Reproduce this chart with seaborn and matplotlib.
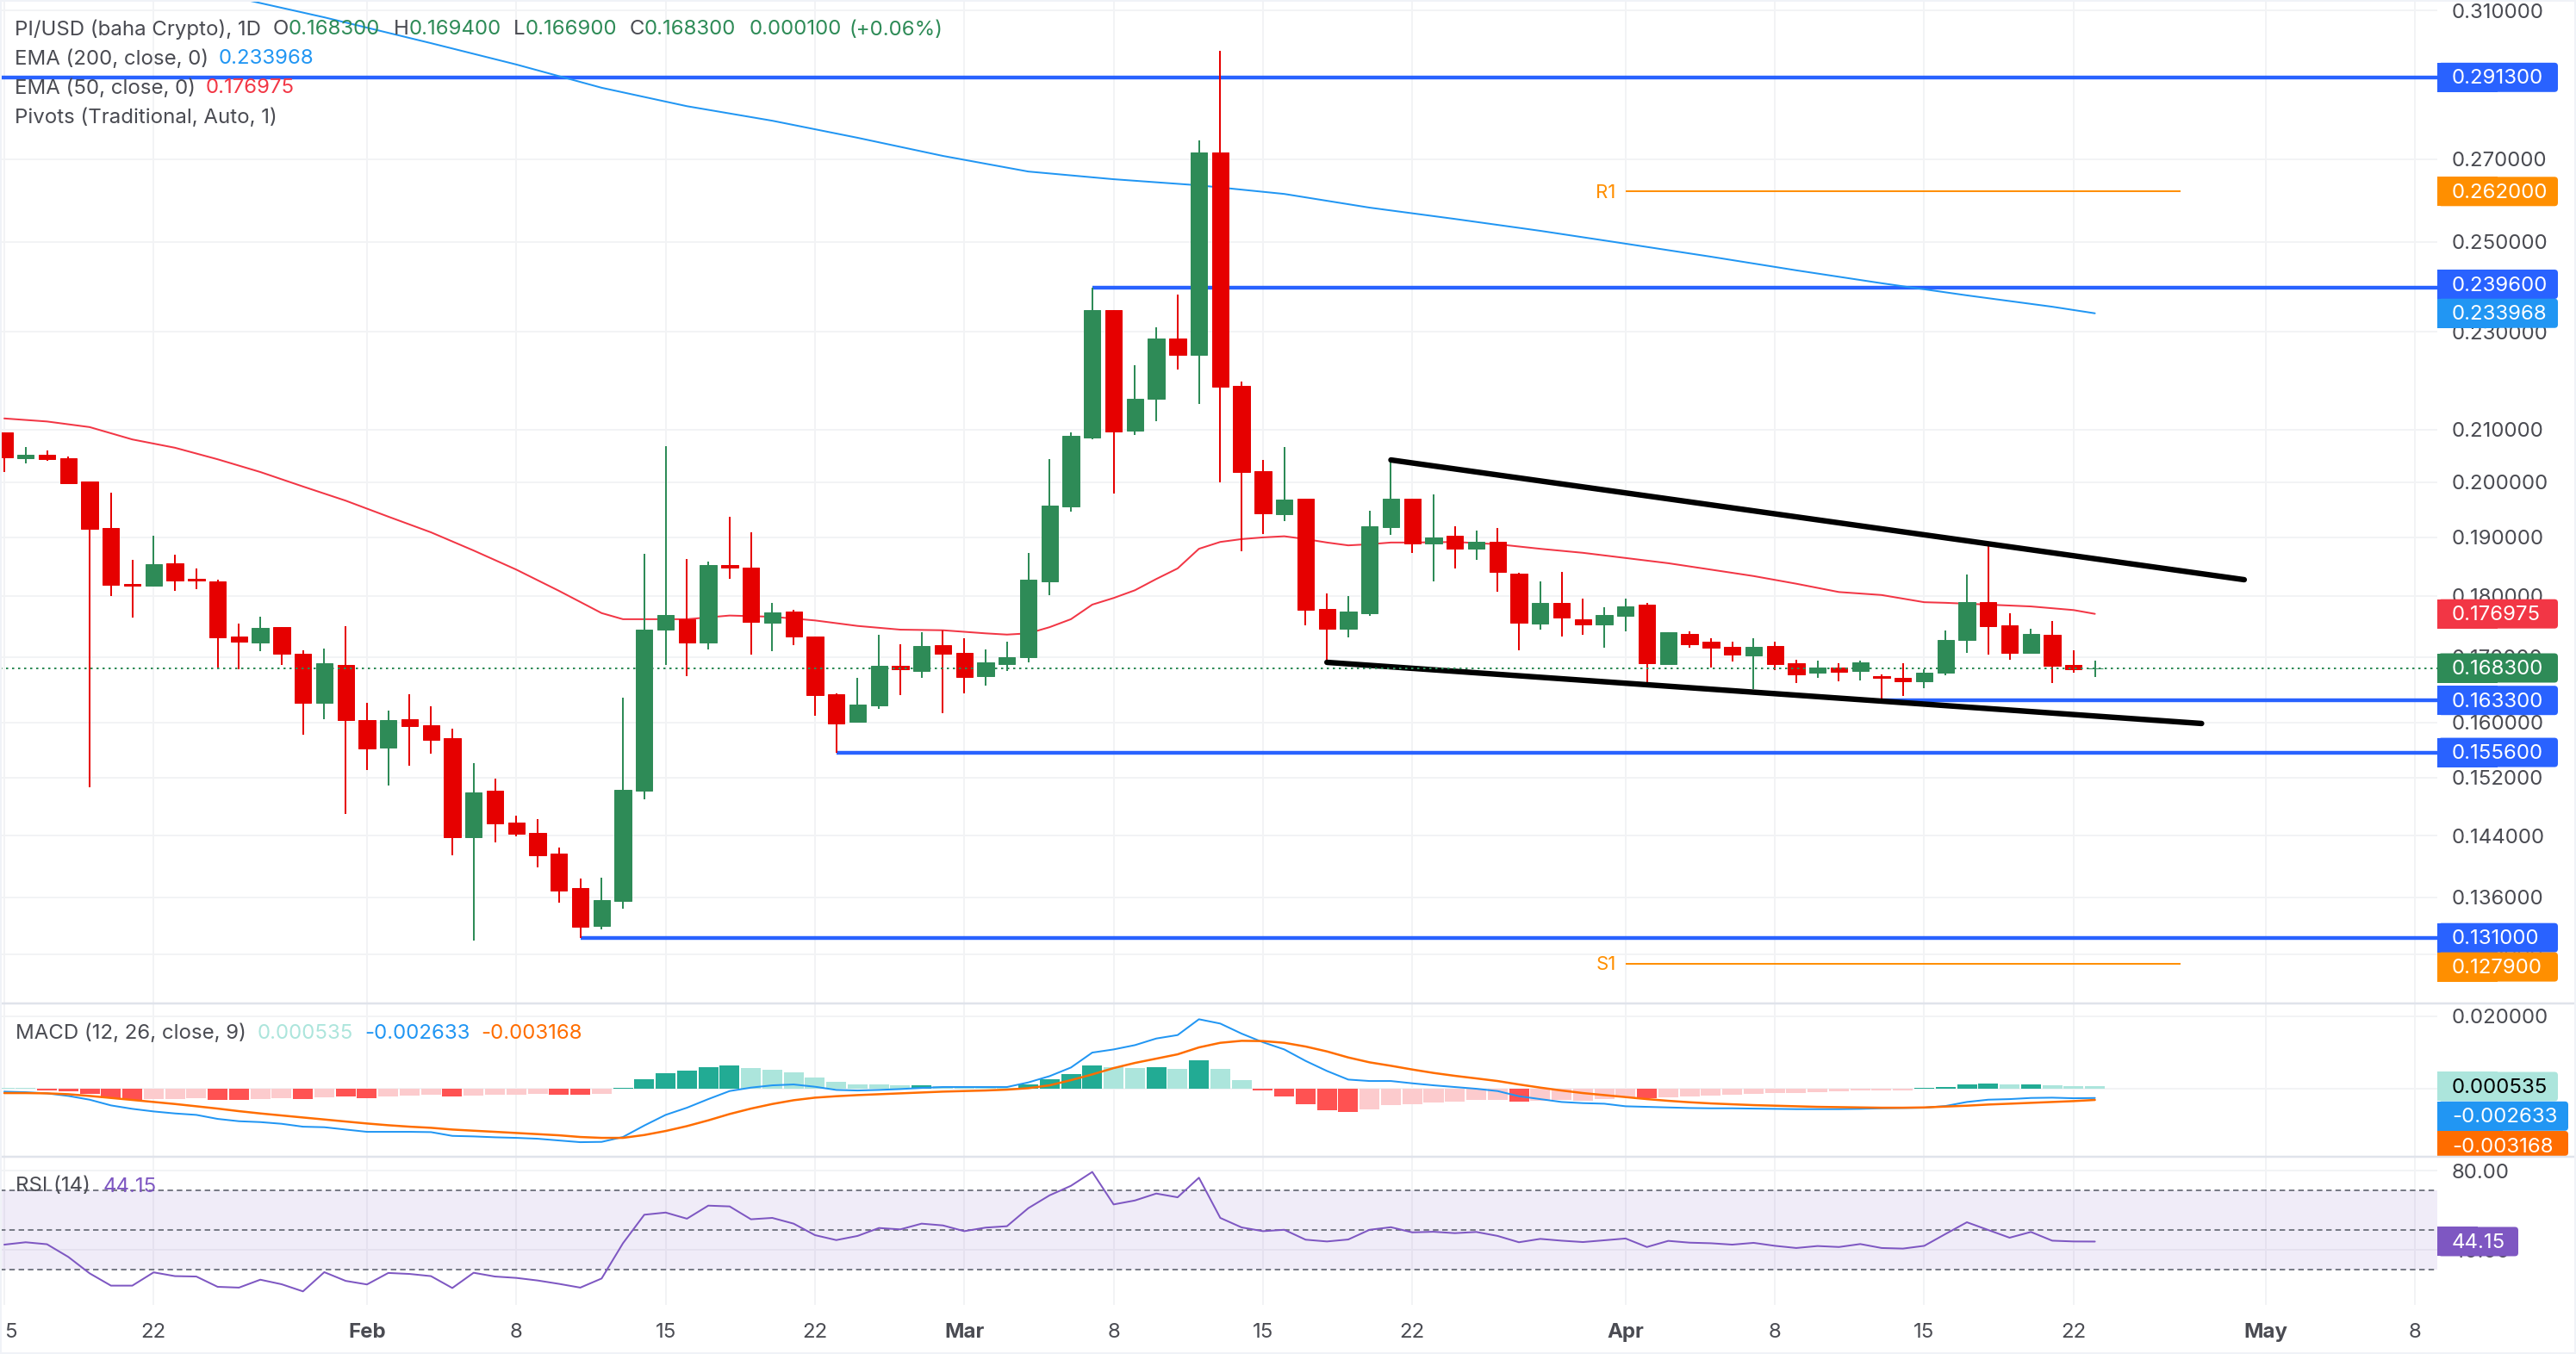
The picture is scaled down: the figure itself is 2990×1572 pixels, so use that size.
import numpy as np
import pandas as pd
import seaborn as sns
import matplotlib
matplotlib.use("Agg")
import matplotlib.pyplot as plt
import matplotlib.dates as mdates
from matplotlib.patches import FancyBboxPatch, Rectangle
from matplotlib.lines import Line2D
from matplotlib.transforms import IdentityTransform

# ---------------- data ----------------
dates = pd.date_range("2025-01-15", periods=99)

open_ = [.2095,.2045,.2052,.2045,.2001,.1917,.1820,.1817,.1855,.1828,.1824,.1733,.1723,.1748,.1705,.1629,.1688,.1604,.1563,.1605,
         .1596,.1577,.1438,.1502,.1458,.1444,.1416,.1372,.1324,.1356,.1502,.1744,.1761,.1723,.1852,.1847,.1755,.1774,.1733,.1642,
         .1601,.1625,.1687,.1678,.1719,.1707,.1670,.1689,.1700,.1824,.1955,.2085,.2346,.2098,.2161,.2286,.2251,.2717,.2187,.2021,
         .1941,.1970,.1778,.1745,.1771,.1918,.1970,.1889,.1903,.1880,.1893,.1837,.1754,.1788,.1761,.1753,.1767,.1785,.1689,.1737,
         .1725,.1716,.1703,.1718,.1690,.1675,.1684,.1678,.1670,.1668,.1662,.1675,.1727,.1789,.1751,.1707,.1736,.1688,.1683]
high_ = [.2095,.2066,.2060,.2049,.2001,.1981,.1861,.1903,.1870,.1846,.1827,.1754,.1765,.1748,.1711,.1714,.1750,.1630,.1618,.1642,
         .1624,.1591,.1541,.1519,.1467,.1462,.1425,.1384,.1385,.1637,.1871,.2068,.1862,.1858,.1937,.1909,.1788,.1776,.1733,.1644,
         .1668,.1736,.1720,.1740,.1743,.1730,.1712,.1725,.1873,.2043,.2095,.2396,.2346,.2230,.2309,.2380,.2747,.2986,.2196,.2042,
         .2066,.1970,.1804,.1799,.1948,.2043,.1970,.1977,.1920,.1912,.1917,.1838,.1824,.1840,.1795,.1781,.1795,.1788,.1740,.1741,
         .1730,.1725,.1730,.1725,.1696,.1695,.1690,.1695,.1673,.1690,.1681,.1743,.1836,.1886,.1771,.1745,.1758,.1711,.1694]
low_ = [.2019,.2035,.2040,.1998,.1507,.1799,.1763,.1817,.1808,.1811,.1682,.1681,.1709,.1688,.1582,.1605,.1470,.1531,.1509,.1537,
        .1554,.1414,.1306,.1431,.1439,.1398,.1353,.1310,.1320,.1346,.1490,.1688,.1670,.1712,.1828,.1704,.1709,.1719,.1610,.1556,
        .1601,.1620,.1641,.1668,.1614,.1644,.1656,.1678,.1692,.1801,.1946,.2081,.1979,.2090,.2117,.2221,.2151,.2000,.1875,.1906,
        .1929,.1751,.1693,.1732,.1767,.1905,.1873,.1824,.1846,.1861,.1806,.1711,.1744,.1733,.1736,.1715,.1741,.1661,.1689,.1715,
        .1684,.1693,.1650,.1680,.1660,.1668,.1662,.1664,.1633,.1640,.1652,.1672,.1707,.1704,.1696,.1707,.1660,.1675,.1669]
close_ = [.2047,.2052,.2044,.1998,.1915,.1818,.1817,.1853,.1825,.1825,.1732,.1725,.1747,.1705,.1629,.1690,.1604,.1562,.1603,.1594,
          .1574,.1438,.1499,.1457,.1443,.1414,.1369,.1323,.1357,.1503,.1744,.1768,.1723,.1852,.1847,.1757,.1772,.1733,.1641,.1598,
          .1627,.1687,.1681,.1718,.1705,.1669,.1692,.1700,.1827,.1957,.2088,.2346,.2096,.2161,.2286,.2251,.2717,.2185,.2019,.1943,
          .1968,.1776,.1745,.1774,.1920,.1970,.1889,.1900,.1880,.1893,.1840,.1755,.1788,.1763,.1753,.1768,.1782,.1690,.1740,.1720,
          .1715,.1704,.1716,.1689,.1673,.1684,.1677,.1692,.1668,.1662,.1675,.1727,.1789,.1750,.1707,.1737,.1686,.1681,.1683]

ema200_days = [11,15,20,24,28,32,36,40,44,48,52,56,60,64,68,72,76,80,84,88,92,96,98]
ema200_vals = [.3135,.3080,.3007,.2948,.2885,.2836,.2798,.2754,.2708,.2669,.2650,.2635,.2614,.2581,.2554,.2526,.2496,.2466,.2435,.2406,.2379,.2354,.233968]

ema50_days = [0,2,4,6,8,10,12,14,16,18,20,22,24,26,28,29,32,34,36,38,40,42,44,46,47,48,49,50,51,52,53,54,55,56,57,58,59,60,61,62,63,64,65,66,68,70,72,74,76,78,80,82,84,86,88,90,91,93,95,97,98]
ema50_vals = [.2122,.2116,.2105,.2081,.2065,.2043,.2019,.1992,.1966,.1937,.1909,.1877,.1844,.1808,.1771,.1761,.1761,.1767,.1765,.1759,.1750,.1744,.1743,.1738,.1736,.1738,.1748,.1761,.1785,.1796,.1809,.1828,.1846,.1880,.1892,.1897,.1900,.1902,.1897,.1891,.1886,.1888,.1891,.1891,.1892,.1888,.1880,.1873,.1864,.1855,.1844,.1833,.1820,.1806,.1801,.1789,.1788,.1785,.1782,.1776,.176975]

# MACD values, in thousandths
hist_m = [.24,.24,-.56,-.79,-1.51,-2.70,-3.17,-2.94,-2.94,-2.70,-3.17,-3.17,-2.94,-2.70,-2.94,-2.46,-2.22,-2.70,-2.22,-1.98,
          -1.75,-2.22,-1.98,-1.75,-1.75,-1.51,-1.75,-1.75,-1.51,.16,2.54,4.21,4.92,5.87,6.35,5.63,5.16,4.44,3.02,1.83,
          1.11,1.11,.87,.87,.71,.48,.32,.24,1.11,2.54,3.97,6.35,5.87,5.63,5.87,5.40,7.78,5.40,2.30,-.56,
          -2.22,-4.37,-6.03,-6.51,-5.79,-4.60,-4.37,-3.89,-3.65,-3.17,-3.17,-3.65,-3.41,-3.17,-3.41,-2.94,-2.46,-2.70,-2.46,-2.22,
          -1.98,-1.75,-1.51,-1.27,-1.27,-1.03,-.79,-.56,-.56,-.56,.16,.40,1.11,1.35,1.11,1.11,.87,.63,.535]
hist_strong = [0,0,1,1,1,1,1,0,0,0,1,1,0,0,1,0,1,1,0,0,0,1,0,0,0,0,1,1,0,1,1,1,1,1,1,0,0,0,0,0,0,0,0,1,0,0,0,0,1,1,1,1,0,0,1,0,1,0,0,
               1,1,1,1,1,0,0,0,0,0,0,0,1,0,0,0,0,0,1,0,0,0,0,0,0,0,0,0,0,0,0,1,1,1,1,0,1,0,0,0]
macd_m = [-.87,-1.03,-1.35,-2.06,-3.10,-4.68,-5.63,-6.35,-6.90,-7.30,-8.41,-9.05,-9.29,-9.76,-10.56,-10.71,-11.35,-11.98,-11.98,-11.98,
          -12.06,-13.10,-13.25,-13.49,-13.65,-13.89,-14.37,-14.84,-14.76,-13.41,-10.24,-7.30,-5.32,-2.94,-.71,.24,.87,1.11,.48,-.40,
          -.56,-.40,-.16,.16,.40,.40,.40,.40,1.67,3.41,5.79,9.92,10.79,11.98,13.81,14.76,19.13,17.94,15.16,12.78,
          10.79,7.62,4.84,2.46,2.06,2.06,1.43,.87,.40,-.08,-.71,-2.14,-2.94,-3.73,-4.05,-4.21,-4.92,-5.08,-5.24,-5.40,
          -5.48,-5.48,-5.56,-5.63,-5.71,-5.71,-5.71,-5.63,-5.48,-5.40,-5.32,-4.84,-3.73,-3.10,-2.94,-2.62,-2.54,-2.70,-2.633]
signal_m = [-1.27,-1.27,-1.35,-1.59,-2.06,-2.62,-3.17,-3.73,-4.29,-4.92,-5.56,-6.27,-6.90,-7.46,-8.02,-8.57,-9.13,-9.68,-10.16,-10.56,
            -10.87,-11.35,-11.67,-11.98,-12.30,-12.62,-12.94,-13.41,-13.65,-13.65,-12.86,-11.75,-10.40,-8.81,-7.06,-5.56,-4.29,-3.25,-2.54,-2.14,
            -1.83,-1.59,-1.35,-1.11,-.87,-.71,-.56,-.32,.08,.87,2.30,3.89,5.63,7.06,8.25,9.44,11.35,12.62,13.17,13.10,
            12.62,11.59,10.24,8.57,7.22,6.27,5.24,4.29,3.49,2.78,2.06,1.11,.24,-.56,-1.27,-1.83,-2.38,-2.94,-3.41,-3.81,
            -4.13,-4.37,-4.60,-4.76,-4.92,-5.08,-5.16,-5.24,-5.32,-5.32,-5.24,-5.00,-4.76,-4.44,-4.21,-3.97,-3.73,-3.49,-3.168]
rsi_vals = [42.6,43.8,42.8,36.4,28.1,21.9,21.9,28.6,26.7,26.5,21.3,20.9,24.9,22.6,19.0,28.7,24.3,22.5,28.3,27.8,
            26.7,20.7,28.4,26.5,25.8,24.5,22.8,20.9,25.5,43.3,57.7,58.8,55.7,62.3,61.9,55.4,56.1,53.2,47.4,44.9,
            47.0,51.0,50.3,53.2,52.3,49.4,51.2,51.9,61.0,67.5,72.3,79.3,62.9,64.9,68.4,66.5,76.4,56.1,51.3,49.4,
            50.1,45.1,44.2,45.2,50.1,51.4,48.8,49.1,48.4,49.0,47.0,43.8,45.5,44.6,43.9,44.8,45.7,41.4,44.5,43.6,
            43.3,42.6,43.5,42.0,40.9,41.9,41.4,42.9,40.9,40.6,42.0,48.0,53.9,50.0,46.1,49.0,44.6,44.2,44.15]

price_ticks = [.31,.27,.25,.23,.21,.20,.19,.18,.17,.16,.152,.144,.136,.129]
macd_ticks = [.02,0.0]
rsi_ticks = [80,40]
rsi_levels = [70,50,30]
date_ticks = ["2025-01-15","2025-01-22","2025-02-01","2025-02-08","2025-02-15","2025-02-22","2025-03-01","2025-03-08","2025-03-15",
              "2025-03-22","2025-04-01","2025-04-08","2025-04-15","2025-04-22","2025-05-01","2025-05-08"]
date_labels = ["","22","Feb","8","15","22","Mar","8","15","22","Apr","8","15","22","May","8"]
month_labels = ["Feb","Mar","Apr","May"]

pivot_levels = [.2913,.2396,.1633,.1556,.1310]
pivot_starts = [None,"2025-03-07","2025-04-13","2025-02-23","2025-02-11"]
r1_level, s1_level = .2620, .1279
rs_from, rs_to = "2025-04-01","2025-04-27"
upper_trend_dates, upper_trend_vals = ["2025-03-21","2025-04-30"], [.20417,.18268]
lower_trend_dates, lower_trend_vals = ["2025-03-18","2025-04-28"], [.16918,.15984]
last_price = .1683

# ---------------- style ----------------
sns.set_theme(style="white")
plt.rcParams["font.family"] = ["Inter", "DejaVu Sans"]
W, H = 2990, 1572
TXT = "#4A4B52"; GRID = "#F2F3F5"; SEP = "#E0E3EB"
GREEN = "#2E8B57"; RED = "#E60000"; PIVOT = "#2962FF"; ORANGE = "#FF8F00"
EMA_B = "#2196F3"; EMA_R = "#F23645"; SIG = "#FF6D00"; PURPLE = "#7E57C2"
FS = 17.3
PX = 0.72   # points per pixel at dpi 100

fig = plt.figure(figsize=(W/100, H/100), dpi=100, facecolor="white")
def add_ax(top, bottom):
    return fig.add_axes([0, 1-bottom/H, 2829/W, (bottom-top)/H])
ax = add_ax(0, 1165)
ax_m = add_ax(1165, 1342.7)
ax_r = add_ax(1342.7, 1514.7)

num = lambda d: mdates.date2num(pd.to_datetime(d))
xs = num(dates)
x0 = xs[0]
xlim = (x0-0.202, x0+114.05)
tick_x = num(date_ticks)

for a in (ax, ax_m, ax_r):
    a.set_facecolor("white")
    for s in a.spines.values():
        s.set_visible(False)
    a.set_axisbelow(True)
    a.grid(True, color=GRID, lw=2*PX)
    a.set_xticks(tick_x)
    a.yaxis.tick_right()
    a.tick_params(axis="both", length=0, labelcolor=TXT, labelsize=FS)
    a.tick_params(axis="y", pad=17*PX)
    a.tick_params(axis="x", labelbottom=False)

# main pane
ax.set_yscale("log")
ax.set_ylim(.12324, .3130)
ax.set_xlim(xlim)
ax.minorticks_off()
ax.set_yticks(price_ticks)
ax.set_yticklabels([f"{t:.6f}" for t in price_ticks])
ax.minorticks_off()

for lv, st in zip(pivot_levels, pivot_starts):
    a_x = xlim[0] + 0.08 if st is None else num(st)
    ax.hlines(lv, a_x, xlim[1], color=PIVOT, lw=4.4*PX, zorder=1.5)
sns.lineplot(x=num(dates[ema200_days]), y=ema200_vals, ax=ax, color=EMA_B, linewidth=2*PX, estimator=None, sort=False, zorder=2)
sns.lineplot(x=num(dates[ema50_days]), y=ema50_vals, ax=ax, color=EMA_R, linewidth=2*PX, estimator=None, sort=False, zorder=2)

o, h, l, c = map(np.array, (open_, high_, low_, close_))
cols = [GREEN if ci >= oi else RED for oi, ci in zip(o, c)]
ax.vlines(xs, l, h, colors=cols, lw=2*PX, zorder=3)
ax.bar(xs, np.abs(c-o), bottom=np.minimum(o, c), width=0.78, color=cols, edgecolor=cols, linewidth=0.7, zorder=3.1)

ax.hlines([r1_level, s1_level], num(rs_from), num(rs_to), color=ORANGE, lw=2*PX, zorder=2)
for lv, s in ((r1_level, "R1"), (s1_level, "S1")):
    ax.annotate(s, xy=(num(rs_from), lv), xytext=(-11*PX, -1), textcoords="offset points",
                ha="right", va="center", color=ORANGE, fontsize=16)
sns.lineplot(x=num(upper_trend_dates), y=upper_trend_vals, ax=ax, color="black", linewidth=6.4*PX, estimator=None, sort=False, zorder=4, solid_capstyle="round")
sns.lineplot(x=num(lower_trend_dates), y=lower_trend_vals, ax=ax, color="black", linewidth=6.4*PX, estimator=None, sort=False, zorder=4, solid_capstyle="round")
ax.hlines(last_price, xlim[0], xlim[1], color=GREEN, lw=2*PX, linestyles=(0, (1.25, 2.25)), zorder=5)

# MACD pane
ax_m.set_xlim(xlim)
ax_m.set_ylim(-.0188, .0235)
hist = np.array(hist_m)/1000
def hcol(v, s):
    if v >= 0:
        return "#22AB94" if s else "#ACE5DC"
    return "#FF5252" if s else "#FCCBCD"
ax_m.bar(xs, hist, width=0.93, color=[hcol(v, s) for v, s in zip(hist, hist_strong)], linewidth=0, zorder=2)
sns.lineplot(x=xs, y=np.array(macd_m)/1000, ax=ax_m, color=EMA_B, linewidth=2*PX, estimator=None, sort=False, zorder=3)
sns.lineplot(x=xs, y=np.array(signal_m)/1000, ax=ax_m, color=SIG, linewidth=2.5*PX, estimator=None, sort=False, zorder=3)
ax_m.set_yticks(macd_ticks)
ax_m.set_yticklabels([f"{t:.6f}" for t in macd_ticks])

# RSI pane
ax_r.set_xlim(xlim)
ax_r.set_ylim(12.3, 87.1)
ax_r.axhspan(min(rsi_levels), max(rsi_levels), facecolor=PURPLE, alpha=0.11, lw=0, zorder=1)
for lv in rsi_levels:
    ax_r.axhline(lv, color="#787B86", lw=2*PX, linestyle=(0, (3.2, 2.2)), zorder=2)
sns.lineplot(x=xs, y=rsi_vals, ax=ax_r, color=PURPLE, linewidth=2*PX, estimator=None, sort=False, zorder=3)
ax_r.set_yticks(rsi_ticks)
ax_r.set_yticklabels([f"{t:.2f}" for t in rsi_ticks])
ax_r.set_xticklabels(date_labels)
ax_r.tick_params(axis="x", labelbottom=True, pad=21.5*PX)
for t in ax_r.get_xticklabels():
    if t.get_text() in month_labels:
        t.set_fontweight("bold")

for a in (ax, ax_m, ax_r):
    a.set_xlabel(""); a.set_ylabel("")

# ---------------- figure overlays ----------------
def txt(x, y, s, color=TXT, **kw):
    kw.setdefault("fontsize", FS)
    fig.text(x/W, 1-(y+1.5)/H, s, color=color, va="center", ha=kw.pop("ha", "left"), **kw)

for y in (1165, 1342.7):
    fig.add_artist(Line2D([0, 1], [1-y/H]*2, color=SEP, lw=2.5*PX, zorder=2))
fig.add_artist(Rectangle((1, 1), W-2, H-2, transform=IdentityTransform(), fill=False, edgecolor="#F0F2F7", lw=2*PX, zorder=2))

def tag(a, value, s, color, tcolor="white", width=140, dy=0, limit=None, tdy=0):
    fig.canvas.draw_idle()
    yc = H - a.transData.transform((xlim[0], value))[1] + dy
    top, bot = yc-17, yc+17
    if limit is not None:
        bot = min(bot, limit)
    fig.add_artist(Rectangle((2829, H-bot), width/2, bot-top, transform=IdentityTransform(), facecolor=color, lw=0, zorder=1.1))
    fig.add_artist(FancyBboxPatch((2829+4, H-bot+3), width-7, bot-top-6, boxstyle="round,pad=3,rounding_size=4",
                                  transform=IdentityTransform(), facecolor=color, lw=0, zorder=1.1, mutation_scale=1))
    txt(2846, yc+tdy, s, color=tcolor)

tag(ax, pivot_levels[0], "0.291300", PIVOT)
tag(ax, r1_level, "0.262000", ORANGE)
tag(ax, pivot_levels[1], "0.239600", PIVOT, dy=-4)
tag(ax, ema200_vals[-1], "0.233968", EMA_B)
tag(ax, ema50_vals[-1], "0.176975", EMA_R)
tag(ax, last_price, "0.168300", GREEN)
tag(ax, pivot_levels[2], "0.163300", PIVOT)
tag(ax, pivot_levels[3], "0.155600", PIVOT)
tag(ax, pivot_levels[4], "0.131000", PIVOT)
tag(ax, s1_level, "0.127900", ORANGE, dy=4)
tag(ax_m, hist_m[-1]/1000, "0.000535", "#ACE5DC", tcolor="black")
tag(ax_m, macd_m[-1]/1000, "-0.002633", EMA_B, width=152, dy=21)
tag(ax_m, signal_m[-1]/1000, "-0.003168", SIG, width=152, dy=53, limit=1342)
tag(ax_r, rsi_vals[-1], "44.15", PURPLE, width=94)

# legends
txt(17, 33, "PI/USD (baha Crypto), 1D")
for x, s, col in [(317, "O", TXT), (335, "0.168300", GREEN), (456.6, "H", TXT), (474.5, "0.169400", GREEN),
                  (596, "L", TXT), (610, "0.166900", GREEN), (731, "C", TXT), (747.5, "0.168300", GREEN),
                  (870, "0.000100", GREEN), (985, "(+0.06%)", GREEN)]:
    txt(x, 33, s, color=col)
txt(17, 67, "EMA (200, close, 0)"); txt(254, 67, "0.233968", color=EMA_B)
txt(17, 101, "EMA (50, close, 0)"); txt(239, 101, "0.176975", color=EMA_R)
txt(17, 135, "Pivots (Traditional, Auto, 1)")
txt(18, 1198, "MACD (12, 26, close, 9)")
txt(298.5, 1198, "0.000535", color="#ACE5DC"); txt(423, 1198, "-0.002633", color=EMA_B); txt(558, 1198, "-0.003168", color=SIG)
txt(18, 1376, "RSI (14)"); txt(120, 1376, "44.15", color=PURPLE)
txt(12, 1545.7, "5", ha="center")

fig.savefig("out.png", dpi=100, facecolor="white")
